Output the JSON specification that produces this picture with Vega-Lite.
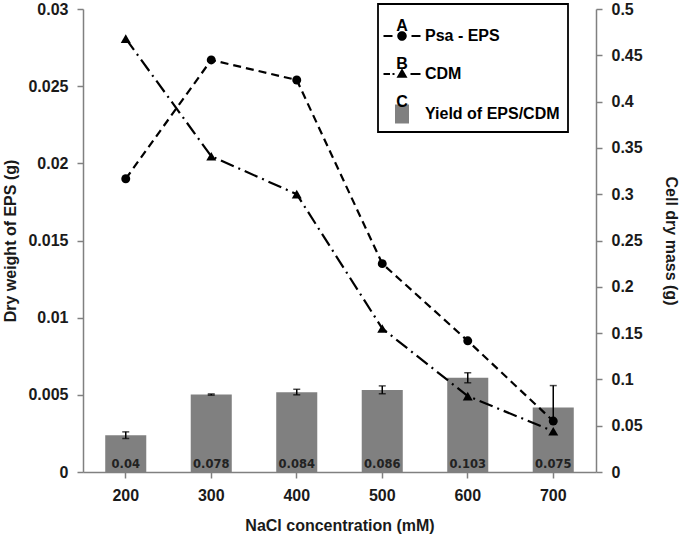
{
  "$schema": "https://vega.github.io/schema/vega-lite/v6.json",
  "width": 513,
  "height": 463,
  "autosize": {"type": "none"},
  "padding": {"left": 83, "top": 9, "right": 84, "bottom": 67},
  "background": "white",
  "config": {
    "view": {"stroke": null},
    "font": "Liberation Sans",
    "axis": {
      "grid": false,
      "domainColor": "#808080",
      "tickColor": "#808080",
      "domainWidth": 1.5,
      "tickWidth": 1.5,
      "tickSize": 6,
      "labelFont": "Liberation Sans",
      "labelFontSize": 16,
      "labelFontWeight": "bold",
      "labelColor": "#1a1a1a",
      "titleFont": "Liberation Sans",
      "titleFontSize": 16,
      "titleFontWeight": "bold",
      "titleColor": "#1a1a1a"
    }
  },
  "data": {
    "values": [
      {"nacl": "200", "eps": 0.0190, "cdm": 0.468, "bar": 0.00238, "bar_lo": 0.00217, "bar_hi": 0.0026, "yield": 0.04, "eps_hi": null},
      {"nacl": "300", "eps": 0.0267, "cdm": 0.341, "bar": 0.00502, "bar_lo": 0.00498, "bar_hi": 0.00506, "yield": 0.078, "eps_hi": null},
      {"nacl": "400", "eps": 0.0254, "cdm": 0.300, "bar": 0.00517, "bar_lo": 0.005, "bar_hi": 0.00536, "yield": 0.084, "eps_hi": null},
      {"nacl": "500", "eps": 0.0135, "cdm": 0.155, "bar": 0.00532, "bar_lo": 0.00507, "bar_hi": 0.00558, "yield": 0.086, "eps_hi": null},
      {"nacl": "600", "eps": 0.0085, "cdm": 0.082, "bar": 0.0061, "bar_lo": 0.00578, "bar_hi": 0.00643, "yield": 0.103, "eps_hi": null},
      {"nacl": "700", "eps": 0.0033, "cdm": 0.044, "bar": 0.00418, "bar_lo": null, "bar_hi": null, "yield": 0.075, "eps_hi": 0.0056}
    ]
  },
  "encoding": {
    "x": {
      "field": "nacl",
      "type": "ordinal",
      "sort": null,
      "scale": {"paddingInner": 0.52, "paddingOuter": 0.26},
      "axis": {"title": "NaCl concentration (mM)", "labelAngle": 0, "labelPadding": 9, "titlePadding": 14}
    }
  },
  "layer": [
    {
      "layer": [
        {
          "mark": {"type": "bar"},
          "encoding": {
            "y": {
              "field": "bar",
              "type": "quantitative",
              "title": "Dry weight of EPS (g)",
              "scale": {"domain": [0, 0.03], "nice": false, "zero": true},
              "axis": {
                "values": [0, 0.005, 0.01, 0.015, 0.02, 0.025, 0.03],
                "format": "~g",
                "labelPadding": 9,
                "titlePadding": 9
              }
            },
            "color": {
              "datum": "Yield of EPS/CDM",
              "type": "nominal",
              "scale": {"domain": ["Psa - EPS", "CDM", "Yield of EPS/CDM"], "range": ["#000000", "#000000", "#808080"]},
              "legend": {
                "title": " ",
                "titleFontSize": 12,
                "titlePadding": 4,
                "orient": "none",
                "legendX": 295,
                "legendY": -5,
                "strokeColor": "#000000",
                "fillColor": "white",
                "padding": 8,
                "symbolSize": 100,
                "symbolOffset": 8,
                "labelOffset": 15,
                "rowPadding": 22,
                "labelFont": "Liberation Sans",
                "labelFontSize": 16,
                "labelFontWeight": "bold",
                "labelColor": "#000000",
                "labelLimit": 300,
                "encode": {
                  "legend": {"update": {"strokeWidth": {"value": 1.8}}},
                  "symbols": {
                    "update": {
                      "shape": {"signal": "datum.value === 'Psa - EPS' ? 'M-3.7,-0.2L-1.9,-0.2L-1.9,0.2L-3.7,0.2Z M1.9,-0.2L3.7,-0.2L3.7,0.2L1.9,0.2Z M-0.95,0A0.95,0.95,0,1,1,0.95,0A0.95,0.95,0,1,1,-0.95,0Z' : datum.value === 'CDM' ? 'M-3.7,-0.2L-2.4,-0.2L-2.4,0.2L-3.7,0.2Z M-1.9,-0.2L-1.5,-0.2L-1.5,0.2L-1.9,0.2Z M1.7,-0.2L3.7,-0.2L3.7,0.2L1.7,0.2Z M0,-1.15L1.1,0.75L-1.1,0.75Z' : 'M-1.4,-1.9L1.4,-1.9L1.4,1.9L-1.4,1.9Z'"},
                      "fill": {"signal": "datum.value === 'Yield of EPS/CDM' ? '#808080' : '#000000'"},
                      "stroke": {"value": "transparent"},
                      "strokeWidth": {"value": 0},
                      "opacity": {"value": 1},
                      "size": {"value": 100}
                    }
                  }
                }
              }
            },
            "opacity": {
              "datum": "A",
              "type": "ordinal",
              "scale": {"domain": ["A", "B", "C"], "range": [1, 1, 1]},
              "legend": {
                "title": null,
                "orient": "none",
                "legendX": 295,
                "legendY": 9,
                "padding": 0,
                "symbolType": "M0,0L0,0Z",
                "symbolSize": 1,
                "symbolOpacity": 0,
                "symbolFillColor": "transparent",
                "symbolStrokeColor": "transparent",
                "symbolStrokeWidth": 0,
                "labelAlign": "center",
                "labelOffset": 8,
                "rowPadding": 22,
                "labelFont": "Liberation Sans",
                "labelFontSize": 16,
                "labelFontWeight": "bold",
                "labelColor": "#000000",
                "encode": {
                  "symbols": {"update": {"shape": {"value": "M0,0L0,0Z"}, "fillOpacity": {"value": 0}, "strokeOpacity": {"value": 0}, "stroke": {"value": "transparent"}, "fill": {"value": "transparent"}}}
                }
              }
            }
          }
        },
        {
          "mark": {"type": "errorbar", "ticks": {"size": 7, "thickness": 1.5, "color": "#000000"}, "rule": {"strokeWidth": 1.5, "color": "#000000"}},
          "transform": [{"filter": "isValid(datum.bar_lo)"}],
          "encoding": {
            "y": {"field": "bar_lo", "type": "quantitative", "title": "Dry weight of EPS (g)"},
            "y2": {"field": "bar_hi"}
          }
        },
        {
          "mark": {"type": "text", "baseline": "bottom", "dy": -2, "font": "DejaVu Sans", "fontSize": 11.5, "fontWeight": "bold", "color": "#222222"},
          "encoding": {
            "y": {"datum": 0, "type": "quantitative", "title": "Dry weight of EPS (g)"},
            "text": {"field": "yield", "type": "quantitative", "format": "~g"}
          }
        },
        {
          "mark": {"type": "line", "strokeDash": [8, 5], "strokeWidth": 2.2},
          "encoding": {
            "y": {"field": "eps", "type": "quantitative", "title": "Dry weight of EPS (g)"},
            "color": {"datum": "Psa - EPS", "type": "nominal"}
          }
        },
        {
          "mark": {"type": "rule", "strokeWidth": 1.5, "color": "#000000"},
          "transform": [{"filter": "isValid(datum.eps_hi)"}],
          "encoding": {
            "y": {"field": "eps", "type": "quantitative", "title": "Dry weight of EPS (g)"},
            "y2": {"field": "eps_hi"}
          }
        },
        {
          "mark": {"type": "tick", "size": 7, "thickness": 1.5, "color": "#000000"},
          "transform": [{"filter": "isValid(datum.eps_hi)"}],
          "encoding": {
            "y": {"field": "eps_hi", "type": "quantitative", "title": "Dry weight of EPS (g)"}
          }
        },
        {
          "mark": {"type": "point", "shape": "circle", "filled": true, "size": 80, "opacity": 1},
          "encoding": {
            "y": {"field": "eps", "type": "quantitative", "title": "Dry weight of EPS (g)"},
            "color": {"datum": "Psa - EPS", "type": "nominal"}
          }
        }
      ]
    },
    {
      "layer": [
        {
          "mark": {"type": "line", "strokeDash": [14, 5, 2, 5], "strokeWidth": 2.2},
          "encoding": {
            "y": {
              "field": "cdm",
              "type": "quantitative",
              "title": "Cell dry mass (g)",
              "scale": {"domain": [0, 0.5], "nice": false},
              "axis": {
                "orient": "right",
                "values": [0, 0.05, 0.1, 0.15, 0.2, 0.25, 0.3, 0.35, 0.4, 0.45, 0.5],
                "format": "~g",
                "labelPadding": 9,
                "titlePadding": 20
              }
            },
            "color": {"datum": "CDM", "type": "nominal"}
          }
        },
        {
          "mark": {"type": "point", "shape": "triangle-up", "filled": true, "size": 100, "opacity": 1},
          "encoding": {
            "y": {"field": "cdm", "type": "quantitative", "title": "Cell dry mass (g)"},
            "color": {"datum": "CDM", "type": "nominal"}
          }
        }
      ]
    }
  ],
  "resolve": {"scale": {"y": "independent"}}
}
